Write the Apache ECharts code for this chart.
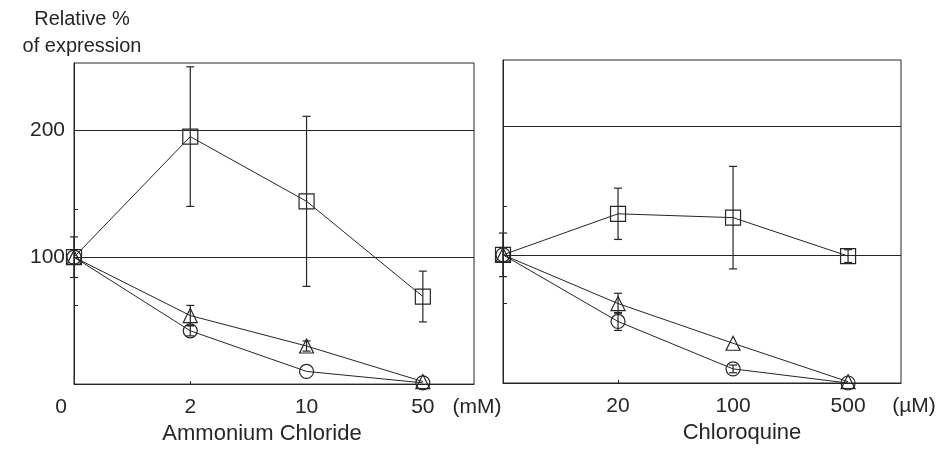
<!DOCTYPE html>
<html>
<head>
<meta charset="utf-8">
<script src="https://cdn.jsdelivr.net/npm/echarts@6/dist/echarts.min.js"></script>
<style>html,body{margin:0;padding:0;background:#fff}#c{width:940px;height:450px}</style>
</head>
<body>
<div id="c"></div>
<script>
// ---- data ----
const ammTickLabels = ['0', '2', '10', '50'];
const ammUnit = '(mM)';
const ammTitle = 'Ammonium Chloride';
const chlTickLabels = ['', '20', '100', '500'];
const chlUnit = '(\u00b5M)';
const chlTitle = 'Chloroquine';
const yTitle = 'Relative %\nof expression';
const yLabels = [100, 200];
const yGridLines = [100, 200];
const yMinorTicks = [62, 100, 138, 200];

const ammSquare = [100, 195, 144, 69];
const ammSquareErr = [16, 55, 67, 20];
const ammTriangle = [100, 54, 30, 2];
const ammTriangleErr = [0, 8, 4, 0];
const ammCircle = [100, 42, 10, 1];
const ammCircleErr = [0, 4, 0, 0];

const chlSquare = [100, 132, 129, 99];
const chlSquareErr = [17, 20, 40, 5];
const chlTriangle = [100, 62, 31, 1];
const chlTriangleErr = [0, 8, 0, 0];
const chlCircle = [100, 48, 11, 0];
const chlCircleErr = [0, 7, 3, 0];

// ---- styling ----
const INK = '#262626';
const FONT = 'Liberation Sans';

function pts(vals) { return vals.map((v, i) => [i, v]); }
function errs(vals, e) { return vals.map((v, i) => [i, v - e[i], v + e[i]]).filter((d, i) => e[i] > 0); }

function lineSeries(vals, symbol, size, gi, withGrid) {
  const s = {
    type: 'line', xAxisIndex: gi, yAxisIndex: gi, data: pts(vals),
    symbol: symbol, symbolSize: size, showAllSymbol: true,
    lineStyle: { color: INK, width: 1 },
    itemStyle: { color: 'rgba(255,255,255,0)', borderColor: INK, borderWidth: 1.2 },
    z: 3, silent: true
  };
  if (withGrid) {
    s.markLine = {
      silent: true, symbol: ['none', 'none'], label: { show: false }, animation: false,
      lineStyle: { color: INK, width: 1, type: 'solid' },
      data: yGridLines.map(v => ({ yAxis: v }))
    };
  }
  return s;
}
function errSeries(vals, e, gi) {
  return {
    type: 'custom', xAxisIndex: gi, yAxisIndex: gi, data: errs(vals, e), z: 4, silent: true,
    renderItem: function (params, api) {
      const lo = api.coord([api.value(0), api.value(1)]);
      const hi = api.coord([api.value(0), api.value(2)]);
      const w = 4;
      const st = { stroke: INK, lineWidth: 1.2 };
      return {
        type: 'group', children: [
          { type: 'line', shape: { x1: lo[0], y1: lo[1], x2: hi[0], y2: hi[1] }, style: st },
          { type: 'line', shape: { x1: lo[0] - w, y1: lo[1], x2: lo[0] + w, y2: lo[1] }, style: st },
          { type: 'line', shape: { x1: hi[0] - w, y1: hi[1], x2: hi[0] + w, y2: hi[1] }, style: st }
        ]
      };
    }
  };
}

function xAxis(gi, labels, unit, title, max, titlePad, unitPad, firstPad) {
  return {
    type: 'value', gridIndex: gi, min: 0, max: max,
    axisLine: { show: true, lineStyle: { color: INK, width: 1 } },
    axisTick: { show: true, inside: true, length: 3, customValues: [1], lineStyle: { color: INK } },
    splitLine: { show: false },
    axisLabel: {
      customValues: [0, 1, 2, 3, max], margin: 13, color: INK, fontFamily: FONT, fontSize: 21,
      formatter: function (v) {
        if (v > 3.1) return '{u|' + unit + '}';
        const t = labels[Math.round(v)];
        if (Math.round(v) === 0) return t ? '{z|' + t + '}' : '';
        return t;
      },
      rich: {
        z: { fontFamily: FONT, fontSize: 21, color: INK, padding: [0, firstPad, 0, 0] },
        u: { fontFamily: FONT, fontSize: 21, color: INK, padding: unitPad }
      }
    },
    name: title, nameLocation: 'middle', nameGap: 38,
    nameTextStyle: { color: INK, fontFamily: FONT, fontSize: 22, padding: titlePad }
  };
}
function yAxis(gi, showLabels) {
  return {
    type: 'value', gridIndex: gi, min: 0, max: gi === 0 ? 253 : 252, interval: 100,
    axisLine: { show: true, lineStyle: { color: INK, width: 1 } },
    axisTick: { show: true, inside: true, length: 4, customValues: yMinorTicks, lineStyle: { color: INK } },
    splitLine: { show: false },
    axisLabel: {
      show: showLabels, customValues: yLabels, margin: 9, color: INK, fontFamily: FONT, fontSize: 21
    },
    name: showLabels ? yTitle : '', nameLocation: 'end', nameGap: 3,
    nameTextStyle: { color: INK, fontFamily: FONT, fontSize: 20, lineHeight: 27, align: 'center', padding: [0, 0, 0, 16] }
  };
}

const chart = echarts.init(document.getElementById('c'), null, { renderer: 'canvas' });
chart.setOption({
  animation: false,
  backgroundColor: '#fff',
  grid: [
    { left: 74, top: 63, width: 400, height: 324, show: true, borderColor: INK, borderWidth: 1, backgroundColor: 'transparent' },
    { left: 503, top: 60, width: 398, height: 323, show: true, borderColor: INK, borderWidth: 1, backgroundColor: 'transparent' }
  ],
  xAxis: [
    xAxis(0, ammTickLabels, ammUnit, ammTitle, 3.44, [0, 24, 0, 0], [0, 0, 0, 6], 26),
    xAxis(1, chlTickLabels, chlUnit, chlTitle, 3.46, [0, 0, 0, 80], [0, 0, 0, 26], 0)
  ],
  yAxis: [yAxis(0, true), yAxis(1, false)],
  series: [
    lineSeries(ammSquare, 'rect', 15, 0, true),
    lineSeries(ammTriangle, 'triangle', 14, 0, false),
    lineSeries(ammCircle, 'circle', 14, 0, false),
    errSeries(ammSquare, ammSquareErr, 0),
    errSeries(ammTriangle, ammTriangleErr, 0),
    errSeries(ammCircle, ammCircleErr, 0),
    lineSeries(chlSquare, 'rect', 15, 1, true),
    lineSeries(chlTriangle, 'triangle', 14, 1, false),
    lineSeries(chlCircle, 'circle', 14, 1, false),
    errSeries(chlSquare, chlSquareErr, 1),
    errSeries(chlTriangle, chlTriangleErr, 1),
    errSeries(chlCircle, chlCircleErr, 1)
  ]
});
</script>
</body>
</html>
